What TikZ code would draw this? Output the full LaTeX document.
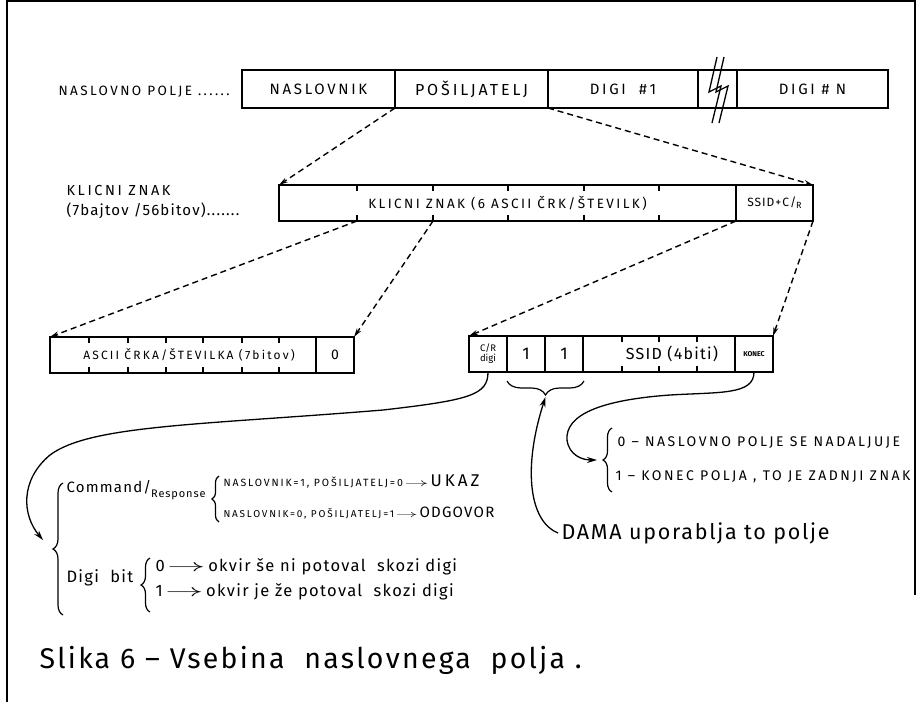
\documentclass[tikz,border=0pt]{standalone}
\usepackage{fontspec}
\setmainfont{Fira Sans}
\newfontfamily\hw[LetterSpace=18]{Fira Sans}
\newfontfamily\hl[LetterSpace=8]{Fira Sans}
\usetikzlibrary{arrows.meta,decorations.pathreplacing}
\newcommand{\longarr}{\,\scalebox{2.2}[1]{$\rightarrow$}\,}
\begin{document}
\begin{tikzpicture}[x=1pt,y=-1pt,
  ln/.style={line width=1.3pt},
  cell/.style={draw, line width=1.3pt, inner sep=0pt, outer sep=0pt, minimum height=36pt},
  darr/.style={line width=1.4pt, dash pattern=on 6pt off 4pt, -{Stealth[length=9pt,width=5pt]}},
  sarr/.style={line width=1.3pt, -{Stealth[length=10pt,width=6pt]}},
  brc/.style={line width=1.2pt, decorate, decoration={brace, amplitude=#1}},
  capf/.style={font=\hw\fontsize{12}{14}\selectfont},
  topf/.style={font=\hw\fontsize{15}{17}\selectfont},
  smallcap/.style={font=\hw\fontsize{10.5}{12}\selectfont},
  hand/.style={font=\hl\fontsize{16.5}{19}\selectfont}
]
\useasboundingbox (0,0) rectangle (917,702);
\fill[white] (0,0) rectangle (917,702);
% frame
\draw[line width=1.2pt] (7,702) -- (7,1) -- (915,1) -- (915,595);

% top row
\node[font=\hw\fontsize{13.5}{15}\selectfont, anchor=west] (lbl1) at (55,92) {NASLOVNO POLJE ......};
\node[cell, topf, minimum width=153pt, minimum height=38pt] (nas) at (318.5,89) {NASLOVNIK};
\node[cell, font=\hw\fontsize{16}{18}\selectfont, minimum width=153pt, minimum height=38pt] (pos) at (471.5,89) {POŠILJATELJ};
\node[cell, topf, minimum width=150pt, minimum height=38pt] (dg1) at (623,89) {DIGI\ \ \#1};
\node[cell, minimum width=39pt, minimum height=38pt] (gap) at (717.5,89) {};
\node[cell, topf, minimum width=151pt, minimum height=38pt] (dgn) at (812.5,89) {DIGI\ \#\ N};
\draw[ln] (717,57) -- (709,92) -- (721,86) -- (712,123);
\draw[ln] (724,57) -- (716,92) -- (728,86) -- (719,123);

% middle row
\node[font=\hw\fontsize{14.5}{16}\selectfont, anchor=west] (lbl2) at (63,190) {KLICNI\ ZNAK};
\node[font=\hl\fontsize{15}{18}\selectfont, anchor=west] (lbl3) at (63,211) {(7bajtov /56bitov).......};
\node[cell, font=\hw\fontsize{13.5}{15}\selectfont, minimum width=457pt] (kz) at (507.5,203) {KLICNI ZNAK (6 ASCII ČRK/ŠTEVILK)};
\node[cell, font=\hl\fontsize{12}{14}\selectfont, minimum width=77pt] (ssid) at (774.5,203) {SSID+C/{\fontsize{9}{9}\selectfont\raisebox{-2pt}{R}}};
\foreach \x in {357,433,508,584,659} {
  \draw[ln] (\x,185) -- ++(0,6);
  \draw[ln] (\x,221) -- ++(0,-6);
}
\coordinate (t1) at (357,221);
\coordinate (t2) at (433,221);

% bottom-left row
\node[cell, minimum width=266pt] (asc) at (183,355) {};
\node[capf] (asct) at (189,355) {ASCII ČRKA/ŠTEVILKA (7bitov)};
\node[cell, font=\fontsize{14}{16}\selectfont, minimum width=38pt] (zero) at (335,355) {0};
\foreach \x in {89,128,166,203,242,279} {
  \draw[ln] (\x,337) -- ++(0,6);
  \draw[ln] (\x,373) -- ++(0,-6);
}

% bottom-right row
\node[cell, align=center, font=\fontsize{9.5}{10}\selectfont, minimum width=38pt] (crd) at (488,354) {C/R\\digi};
\node[cell, font=\fontsize{17}{18}\selectfont, minimum width=38pt] (one1) at (526,354) {1};
\node[cell, font=\fontsize{17}{18}\selectfont, minimum width=38pt] (one2) at (564,354) {1};
\node[cell, minimum width=152pt] (ss4) at (659,354) {};
\node[font=\hl\fontsize{16}{18}\selectfont] (ss4t) at (672,354) {SSID (4biti)};
\node[cell, font=\bfseries\fontsize{7}{8}\selectfont, minimum width=38pt] (kon) at (754,354) {KONEC};
\foreach \x in {622,659,697} {
  \draw[ln] (\x,336) -- ++(0,6);
  \draw[ln] (\x,372) -- ++(0,-6);
}

% dashed arrows
\draw[darr] (pos.south west) -- (kz.north west);
\draw[darr] (pos.south east) -- (ssid.north east);
\draw[darr] (t1) -- (asc.north west);
\draw[darr] (t2) -- (zero.north east);
\draw[darr] (ssid.south west) -- (crd.north west);
\draw[darr] (ssid.south east) -- (kon.north east);

% brace under the two ones
\draw[brc=14pt] (584,381) -- (507,381);
\coordinate (bt) at (545.5,397);

% right explanation
\draw[brc=9pt] (612,492) -- (612,428);
\coordinate (rb) at (597,460);
\node[font=\hw\fontsize{14}{15}\selectfont, anchor=west] (r0) at (614,443) {0 – NASLOVNO POLJE SE NADALJUJE};
\node[font=\hw\fontsize{14}{15}\selectfont, anchor=west] (r1) at (612,477) {1 – KONEC POLJA , TO JE ZADNJI ZNAK};
\draw[sarr] (kon.south) .. controls (754,395) and (720,392) .. (670,395) .. controls (600,400) and (565,415) .. (567,440) .. controls (569,455) and (582,460) .. (rb);

\node[font=\hl\fontsize{21.5}{24}\selectfont, anchor=west] (dama) at (558,533) {DAMA uporablja to polje};
\draw[sarr] (dama.west) .. controls (530,522) and (522,470) .. (bt);

% left explanation
\coordinate (bb) at (43,540);
\draw[sarr] (crd.south) .. controls (488,395) and (470,400) .. (383,410) .. controls (200,425) and (90,425) .. (50,455) .. controls (20,480) and (22,515) .. (bb);
\draw[brc=10pt] (63,615) -- (63,483);
\node[font=\hl\fontsize{15}{18}\selectfont, anchor=west] (cmd) at (63,490) {Command/{\fontsize{11}{12}\selectfont\raisebox{-5pt}{Response}}};
\draw[brc=7pt] (219,522) -- (219,476);
\node[anchor=west, smallcap] (uk) at (220,482) {NASLOVNIK=1, POŠILJATELJ=0{\normalfont\longarr}{\hw\fontsize{17}{18}\selectfont UKAZ}};
\node[anchor=west, font=\hw\fontsize{10}{12}\selectfont] (od) at (220,513) {NASLOVNIK=0, POŠILJATELJ=1{\normalfont\longarr}{\hl\fontsize{15}{18}\selectfont ODGOVOR}};
\node[hand, anchor=west] (db) at (63,578) {Digi\ \ bit};
\draw[brc=9pt] (150,612) -- (150,558);
\node[hand, anchor=west] (d0) at (152,567) {0{\normalfont\longarr}okvir še ni potoval\ \ skozi digi};
\node[hand, anchor=west] (d1) at (152,592) {1{\normalfont\longarr}okvir je že potoval\ \ skozi digi};

% caption
\node[font=\hl\fontsize{28.5}{32}\selectfont, anchor=west] (cap) at (36,660) {Slika 6 – Vsebina\ \ naslovnega\ \ polja .};
\end{tikzpicture}
\end{document}
